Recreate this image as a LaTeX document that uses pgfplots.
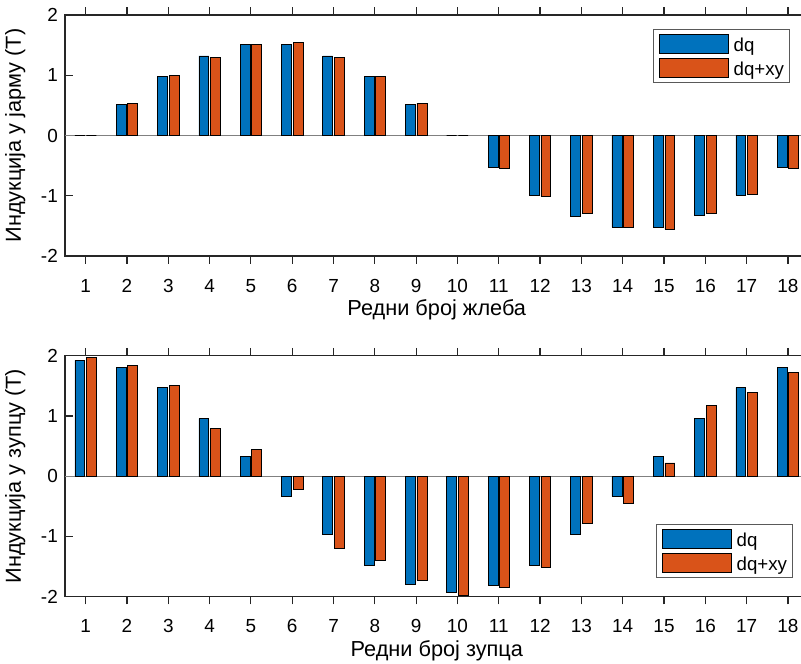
\documentclass[border=0pt]{standalone}
\usepackage{fontspec}
\setmainfont{Liberation Sans}
\usepackage{pgfplots}
\pgfplotsset{compat=1.18}

\definecolor{dqblue}{RGB}{0,114,189}
\definecolor{dqorange}{RGB}{217,83,25}
\definecolor{axgray}{RGB}{38,38,38}
\newcommand{\tickfont}{\fontsize{14.2pt}{17pt}\selectfont}
\newcommand{\legfont}{\fontsize{14pt}{16pt}\selectfont}
\newcommand{\labfont}{\fontsize{16.3pt}{19pt}\selectfont}

% slot values
\pgfplotstableread{
x dq dqxy
1 0 0
2 0.52 0.53
3 0.985 1.00
4 1.32 1.295
5 1.51 1.515
6 1.51 1.55
7 1.32 1.295
8 0.985 0.975
9 0.52 0.537
10 0 0
11 -0.526 -0.542
12 -0.99 -1.012
13 -1.339 -1.295
14 -1.521 -1.521
15 -1.521 -1.555
16 -1.333 -1.295
17 -0.99 -0.979
18 -0.526 -0.548
}\slots

% tooth values
\pgfplotstableread{
x dq dqxy
1 1.92 1.975
2 1.80 1.84
3 1.47 1.505
4 0.957 0.797
5 0.332 0.448
6 -0.337 -0.221
7 -0.963 -1.19
8 -1.477 -1.389
9 -1.80 -1.73
10 -1.92 -1.975
11 -1.81 -1.837
12 -1.477 -1.505
13 -0.963 -0.79
14 -0.337 -0.448
15 0.332 0.221
16 0.957 1.178
17 1.47 1.389
18 1.80 1.726
}\teeth

\pgfplotsset{
  barstyle/.style={
    scale only axis, width=557.7pt, height=180.75pt,
    xmin=0.5, xmax=18.5, ymin=-2, ymax=2,
    xtick={1,...,18}, ytick={-2,-1,0,1,2},
    yticklabels={-2,-1,0,1,2},
    /pgf/number format/assume math mode=true,
    ticklabel style={font=\tickfont},
    xticklabel style={anchor=base, yshift=-21.2pt},
    yticklabel style={anchor=east, inner sep=0pt, xshift=-5.2pt},
    tick align=inside, major tick length=5.8pt,
    ytick pos=left,
    axis line style={axgray, line width=0.9pt},
    every tick/.style={axgray, line width=0.9pt},
    xlabel style={font=\labfont, at={(axis description cs:0.5,-0.247)}, anchor=base, inner sep=0pt},
    ylabel style={font=\labfont, at={(axis description cs:-0.053,0.5)}, anchor=south, inner sep=0pt},
    ybar, bar width=0.24,
    legend cell align=left,
    legend style={font=\legfont, draw=black!65, line width=0.6pt,
      inner xsep=4.2pt, inner ysep=3.6pt, row sep=3.2pt, column sep=3.75pt,
      nodes={inner sep=0pt}},
    legend image code/.code={\draw[#1, line width=0.6pt] (0pt,-5.6pt) rectangle (51.75pt,8.6pt);},
  },
  dqbar/.style={fill=dqblue, draw=black, line width=0.5pt, bar shift=-0.14},
  xybar/.style={fill=dqorange, draw=black, line width=0.5pt, bar shift=0.14},
}

\begin{document}
\begin{tikzpicture}
\begin{axis}[barstyle, name=top, at={(0pt,0pt)}, anchor=north west,
  xlabel={Редни број жлеба}, ylabel={Индукција у јарму (Т)},
  legend style={at={(rel axis cs:0.975,0.942)}, anchor=north east}]
\draw[gray, line width=0.8pt] (axis cs:0.5,0) -- (axis cs:18.5,0);
\addplot[dqbar] table[x=x, y=dq] {\slots};
\addplot[xybar] table[x=x, y=dqxy] {\slots};
\legend{dq, dq+xy}
\end{axis}

\begin{axis}[barstyle, name=bottom, at={(0pt,-255.5pt)}, anchor=north west,
  xlabel={Редни број зупца}, ylabel={Индукција у зупцу (Т)},
  legend style={at={(rel axis cs:0.979,0.078)}, anchor=south east}]
\draw[gray, line width=0.8pt] (axis cs:0.5,0) -- (axis cs:18.5,0);
\addplot[dqbar] table[x=x, y=dq] {\teeth};
\addplot[xybar] table[x=x, y=dqxy] {\teeth};
\legend{dq, dq+xy}
\end{axis}

\pgfresetboundingbox
\useasboundingbox (-48.75pt,-486.75pt) rectangle (552pt,11.25pt);
\end{tikzpicture}
\end{document}
